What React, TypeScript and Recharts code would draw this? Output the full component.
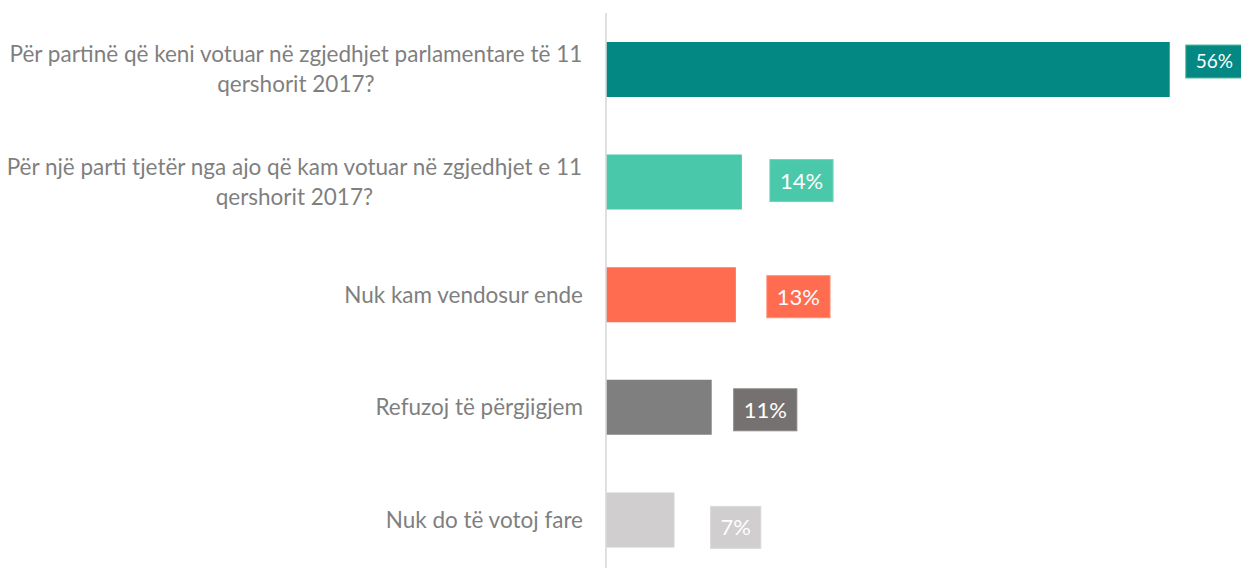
import React from "react";
import { BarChart, Bar, XAxis, YAxis, Cell, LabelList } from "recharts";

const CATEGORIES = [
  "Për partinë që keni votuar në zgjedhjet parlamentare të 11 qershorit 2017?",
  "Për një parti tjetër nga ajo që kam votuar në zgjedhjet e 11 qershorit 2017?",
  "Nuk kam vendosur ende",
  "Refuzoj të përgjigjem",
  "Nuk do të votoj fare",
];
const VALUES = [56, 13.5, 12.9, 10.5, 6.8];
const LABELS = ["56%", "14%", "13%", "11%", "7%"];

// styling
const BAR_COLORS = ["#038884", "#49c9aa", "#ff6c4f", "#7f7f7f", "#d0cece"];
const BOX_COLORS = ["#038884", "#49c9aa", "#ff6c4f", "#767171", "#d0cece"];
const BOX_BORDERS = ["#5dbb9c", "#6fd4bb", "#ff8a72", "#8a8686", "#dcdada"];
// per-label placement nudges: gap from bar end, vertical offset, box height, font size
const LABEL_GAP = [16, 28, 31, 22, 36];
const LABEL_DY = [-8, -1.5, 2, 2.5, 7.5];
const LABEL_H = [33, 42, 42, 42, 42];
const LABEL_FS = [19, 22, 22, 22, 22];

const FONT = "Lato, 'Open Sans', sans-serif";
const TICK_FS = 22.5;
const WRAP_CHARS = 62;

const data = CATEGORIES.map((name, i) => ({ name, value: VALUES[i], label: LABELS[i] }));

let ctx: CanvasRenderingContext2D | null = null;
function measure(text: string, size: number): number {
  if (!ctx) {
    const c = document.createElement("canvas");
    ctx = c.getContext("2d");
  }
  if (!ctx) return text.length * size * 0.5;
  ctx.font = `${size}px Lato`;
  return ctx.measureText(text).width;
}

function wrap(text: string, maxChars: number): string[] {
  const words = text.split(" ");
  const lines: string[] = [];
  let cur = "";
  for (const w of words) {
    const t = cur ? cur + " " + w : w;
    if (t.length > maxChars && cur) {
      lines.push(cur);
      cur = w;
    } else cur = t;
  }
  if (cur) lines.push(cur);
  return lines;
}

const Tick = (props: any) => {
  const { x, y, payload } = props;
  const lines = wrap(String(payload.value), WRAP_CHARS);
  const lh = 30;
  if (lines.length === 1) {
    return (
      <text x={x} y={y} dy="0.36em" textAnchor="end" fill="#7f7f7f" fontSize={TICK_FS} fontFamily={FONT}>
        {lines[0]}
      </text>
    );
  }
  const maxW = Math.max(...lines.map((l) => measure(l, TICK_FS)));
  const cx = x - maxW / 2;
  const start = y - ((lines.length - 1) * lh) / 2;
  return (
    <text textAnchor="middle" fill="#7f7f7f" fontSize={TICK_FS} fontFamily={FONT}>
      {lines.map((l, i) => (
        <tspan key={i} x={cx} y={start + i * lh} dy="0.36em">
          {l}
        </tspan>
      ))}
    </text>
  );
};

const BoxLabel = (props: any) => {
  const { x, y, width, height, index, value } = props;
  const fs = LABEL_FS[index];
  const tw = measure(String(value), fs);
  const bw = tw + 20;
  const bh = LABEL_H[index];
  const bx = x + width + LABEL_GAP[index];
  const cy = y + height / 2 + LABEL_DY[index];
  return (
    <g>
      <rect x={bx} y={cy - bh / 2} width={bw} height={bh} fill={BOX_COLORS[index]} stroke={BOX_BORDERS[index]} strokeWidth={1} />
      <text x={bx + bw / 2} y={cy} dy="0.36em" textAnchor="middle" fill="#ffffff" fontSize={fs} fontFamily={FONT}>
        {value}
      </text>
    </g>
  );
};

export default function App() {
  return (
    <div style={{ position: "absolute", left: 0, top: 0, background: "#fff" }}>
      <BarChart
        width={1241}
        height={576}
        data={data}
        layout="vertical"
        margin={{ top: 13, right: 31, bottom: 0, left: 0 }}
      >
        <XAxis type="number" domain={[0, 60]} hide />
        <YAxis
          type="category"
          dataKey="name"
          width={606}
          axisLine={{ stroke: "#d9d9d9", strokeWidth: 1.6 }}
          tickLine={false}
          tickSize={0}
          tickMargin={23}
          tick={<Tick />}
          interval={0}
        />
        <Bar dataKey="value" barSize={55} isAnimationActive={false}>
          {data.map((d, i) => (
            <Cell key={i} fill={BAR_COLORS[i]} />
          ))}
          <LabelList dataKey="label" content={<BoxLabel />} />
        </Bar>
      </BarChart>
    </div>
  );
}
